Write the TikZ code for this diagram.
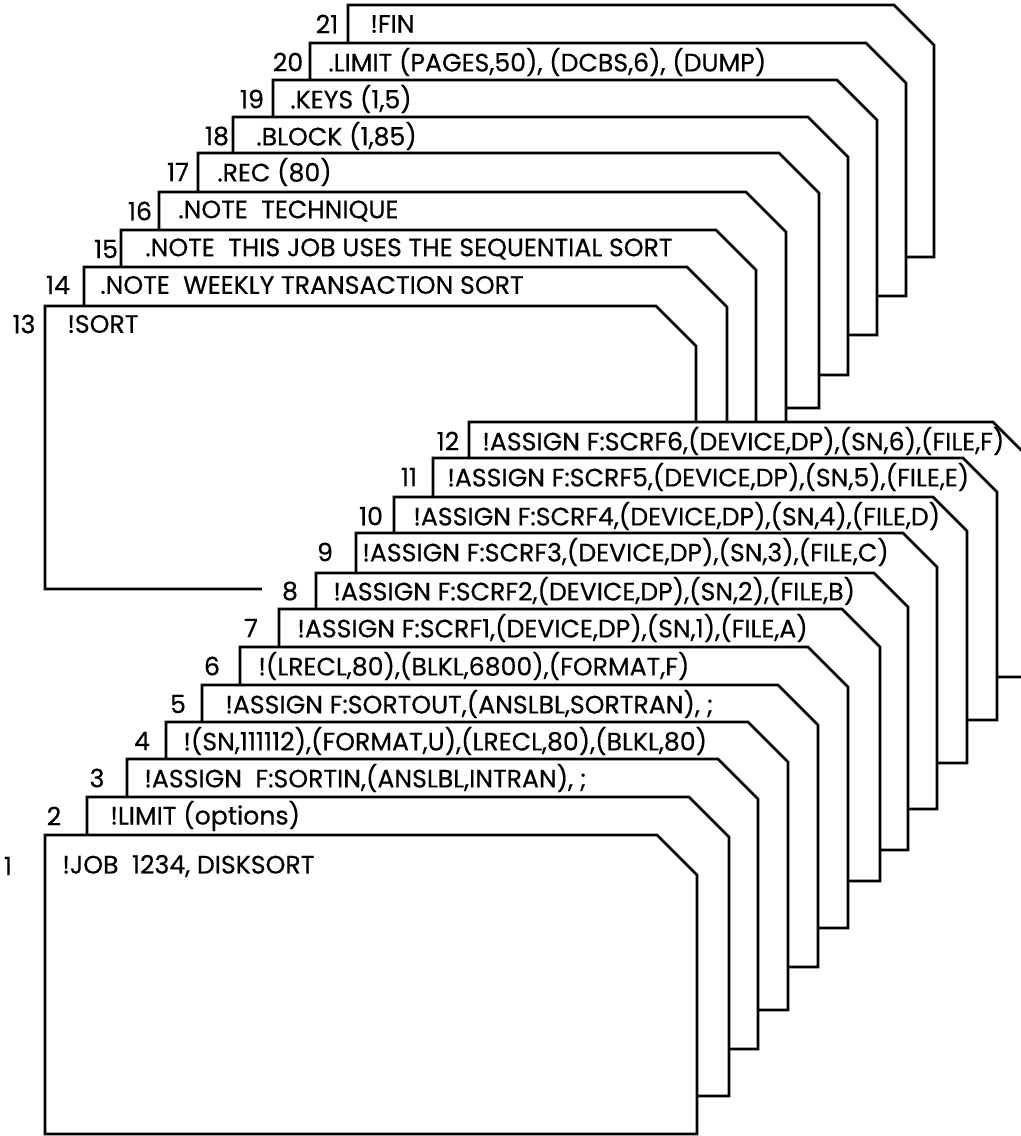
\documentclass[tikz,border=0pt]{standalone}
\usepackage{fontspec}
\setmainfont{Poppins}[FakeBold=0.4]
\tikzset{
  card/.style={draw, fill=white, line width=1.3pt, line join=miter},
  cardtext/.style={anchor=west, inner sep=0pt, font=\fontsize{12.6}{14}\selectfont},
  cardnum/.style={fill=white, inner sep=0pt, minimum width=28pt, minimum height=12pt,
    font=\fontsize{12.6}{14}\selectfont},
}
\newcommand{\cardcut}{40}
% \card{number}{left}{top}{right}{bottom}{number x}{text x}{text dy}{text}
\newcommand{\card}[9]{%
  \node[cardnum] (n#1) at (#6,#3+#8) {#1};
  \draw[card] (#2,#3) -- (#4-\cardcut,#3) -- (#4,#3+\cardcut) -- (#4,#5) -- (#2,#5) -- cycle;
  \node[cardtext] (t#1) at (#7,#3+#8) {#9};
}

\begin{document}
\begin{tikzpicture}[x=0.5pt, y=-0.5pt]
    \useasboundingbox (0,0) rectangle (1021,1136);
    \clip (0,0) rectangle (1021,1136);
    % back deck, from the last card to the front
    \card{21}{348}{5}{934}{257}{327}{370}{19}{!FIN}
    \card{20}{310}{43}{906}{296}{288}{328}{19}{.LIMIT (PAGES,50), (DCBS,6), (DUMP)}
    \card{19}{273}{80}{877}{335}{252}{290}{19}{.KEYS (1,5)}
    \card{18}{233}{117}{848}{375}{217}{256}{19}{.BLOCK (1,85)}
    \card{17}{198}{153}{819}{408}{178}{217}{19}{.REC (80)}
    \card{16}{159}{192}{786}{455}{140}{178}{19}{.NOTE\ \ TECHNIQUE}
    \card{15}{121}{230}{756}{500}{106}{145}{19}{.NOTE\ \ THIS JOB USES THE SEQUENTIAL SORT}
    \card{14}{84}{267}{727}{544}{58}{100}{18}{.NOTE\ \ WEEKLY TRANSACTION SORT}
    \card{13}{45}{306}{696}{589}{24}{67}{18}{!SORT}
    % front deck
    \renewcommand{\cardcut}{34}
    \card{12}{469}{422}{1027}{677}{448}{482}{19}{!ASSIGN F:SCRF6,(DEVICE,DP),(SN,6),(FILE,F)}
    \card{11}{433}{458}{997}{720}{409}{447}{19}{!ASSIGN F:SCRF5,(DEVICE,DP),(SN,5),(FILE,E)}
    \card{10}{394}{497}{967}{763}{371}{413}{19}{!ASSIGN F:SCRF4,(DEVICE,DP),(SN,4),(FILE,D)}
    \card{9}{356}{533}{937}{809}{325}{362}{19}{!ASSIGN F:SCRF3,(DEVICE,DP),(SN,3),(FILE,C)}
    \card{8}{316}{573}{908}{850}{290}{333}{18}{!ASSIGN F:SCRF2,(DEVICE,DP),(SN,2),(FILE,B)}
    \renewcommand{\cardcut}{38}
    \card{7}{279}{609}{880}{881}{251}{297}{19}{!ASSIGN F:SCRF1,(DEVICE,DP),(SN,1),(FILE,A)}
    \renewcommand{\cardcut}{40}
    \card{6}{240}{647}{848}{928}{212}{258}{19}{!(LRECL,80),(BLKL,6800),(FORMAT,F)}
    \card{5}{202}{685}{818}{967}{178}{225}{19}{!ASSIGN F:SORTOUT,(ANSLBL,SORTRAN), ;}
    \card{4}{166}{722}{788}{1010}{142}{183}{19}{!(SN,111112),(FORMAT,U),(LRECL,80),(BLKL,80)}
    \card{3}{127}{759}{758}{1049}{97}{144}{19}{!ASSIGN\ \ F:SORTIN,(ANSLBL,INTRAN), ;}
    \card{2}{87}{797}{729}{1096}{54}{110}{19}{!LIMIT (options)}
    \card{1}{45}{835}{697}{1134}{8}{62}{31}{!JOB\ \ 1234, DISKSORT}
\end{tikzpicture}
\end{document}
